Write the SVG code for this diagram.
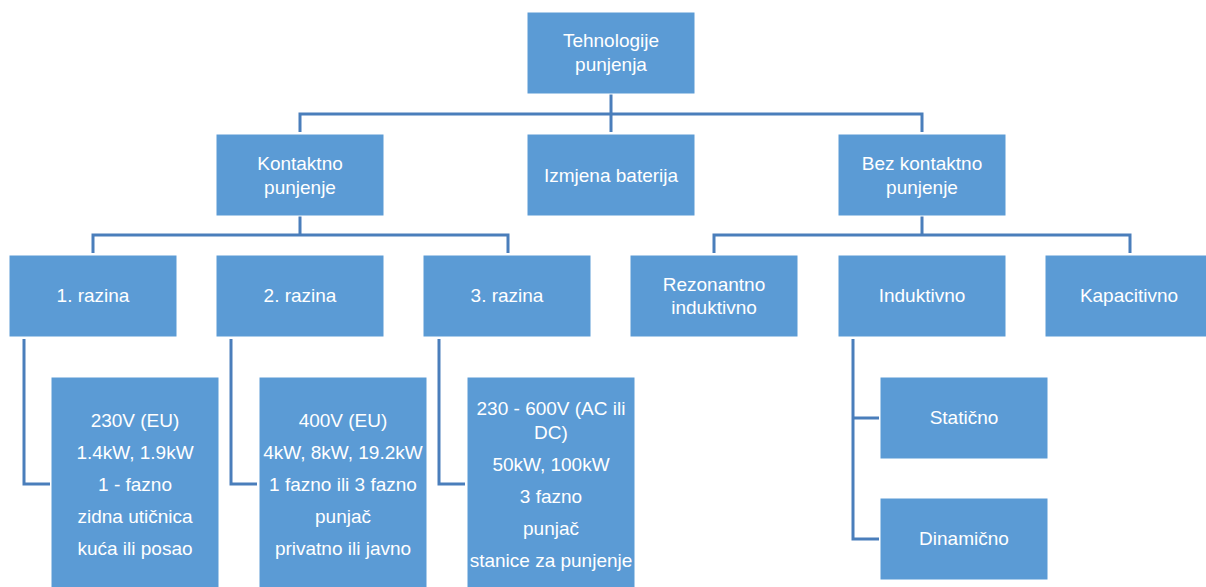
<svg xmlns="http://www.w3.org/2000/svg" width="1206" height="587" viewBox="0 0 1206 587">
<style>
.box{fill:#5B9BD5;stroke:#ffffff;stroke-width:1}
.t{font-family:"Liberation Sans",Arial,sans-serif;font-size:19px;fill:#ffffff;text-anchor:middle}
.c{fill:none;stroke:#4A7EBB;stroke-width:3}
</style>
<rect width="1206" height="587" fill="#ffffff"/>
<g id="connectors">
<path class="c" d="M611 94 V114 M300 132 V114 H922 V132 M611 114 V132"/>
<path class="c" d="M300 216 V235 M93 253 V235 H508 V253"/>
<path class="c" d="M922 216 V235 M714 253 V235 H1130 V253"/>
<path class="c" d="M24 339 V484 H50"/>
<path class="c" d="M231 339 V484 H257"/>
<path class="c" d="M439 339 V484 H465"/>
<path class="c" d="M853 339 V539 H879 M853 418 H879"/>
</g>
<g id="root"><rect class="box" x="527" y="12" width="168" height="82"/><text class="t" x="611" y="47">Tehnologije</text><text class="t" x="611" y="71">punjenja</text></g>
<g id="kontaktno"><rect class="box" x="216" y="134" width="168" height="82"/><text class="t" x="300" y="170">Kontaktno</text><text class="t" x="300" y="194">punjenje</text></g>
<g id="izmjena"><rect class="box" x="527" y="134" width="168" height="82"/><text class="t" x="611" y="182">Izmjena baterija</text></g>
<g id="bezkontaktno"><rect class="box" x="838" y="134" width="168" height="82"/><text class="t" x="922" y="170">Bez kontaktno</text><text class="t" x="922" y="194">punjenje</text></g>
<g id="razina1"><rect class="box" x="9" y="255" width="168" height="82"/><text class="t" x="93" y="302">1. razina</text></g>
<g id="razina2"><rect class="box" x="216" y="255" width="168" height="82"/><text class="t" x="300" y="302">2. razina</text></g>
<g id="razina3"><rect class="box" x="423" y="255" width="168" height="82"/><text class="t" x="507" y="302">3. razina</text></g>
<g id="rezonantno"><rect class="box" x="630" y="255" width="168" height="82"/><text class="t" x="714" y="291">Rezonantno</text><text class="t" x="714" y="314">induktivno</text></g>
<g id="induktivno"><rect class="box" x="838" y="255" width="168" height="82"/><text class="t" x="922" y="302">Induktivno</text></g>
<g id="kapacitivno"><rect class="box" x="1045" y="255" width="168" height="82"/><text class="t" x="1129" y="302">Kapacitivno</text></g>
<g id="detalji1"><rect class="box" x="51" y="377" width="168" height="215"/>
<text class="t" x="135" y="427">230V (EU)</text><text class="t" x="135" y="459">1.4kW, 1.9kW</text><text class="t" x="135" y="491">1 - fazno</text><text class="t" x="135" y="523">zidna utičnica</text><text class="t" x="135" y="555">kuća ili posao</text></g>
<g id="detalji2"><rect class="box" x="259" y="377" width="168" height="215"/>
<text class="t" x="343" y="427">400V (EU)</text><text class="t" x="343" y="459">4kW, 8kW, 19.2kW</text><text class="t" x="343" y="491">1 fazno ili 3 fazno</text><text class="t" x="343" y="523">punjač</text><text class="t" x="343" y="555">privatno ili javno</text></g>
<g id="detalji3"><rect class="box" x="467" y="377" width="168" height="215"/>
<text class="t" x="551" y="415">230 - 600V (AC ili</text><text class="t" x="551" y="439">DC)</text><text class="t" x="551" y="471">50kW, 100kW</text><text class="t" x="551" y="503">3 fazno</text><text class="t" x="551" y="535">punjač</text><text class="t" x="551" y="567">stanice za punjenje</text></g>
<g id="staticno"><rect class="box" x="880" y="377" width="168" height="82"/><text class="t" x="964" y="424">Statično</text></g>
<g id="dinamicno"><rect class="box" x="880" y="498" width="168" height="82"/><text class="t" x="964" y="545">Dinamično</text></g>
</svg>
